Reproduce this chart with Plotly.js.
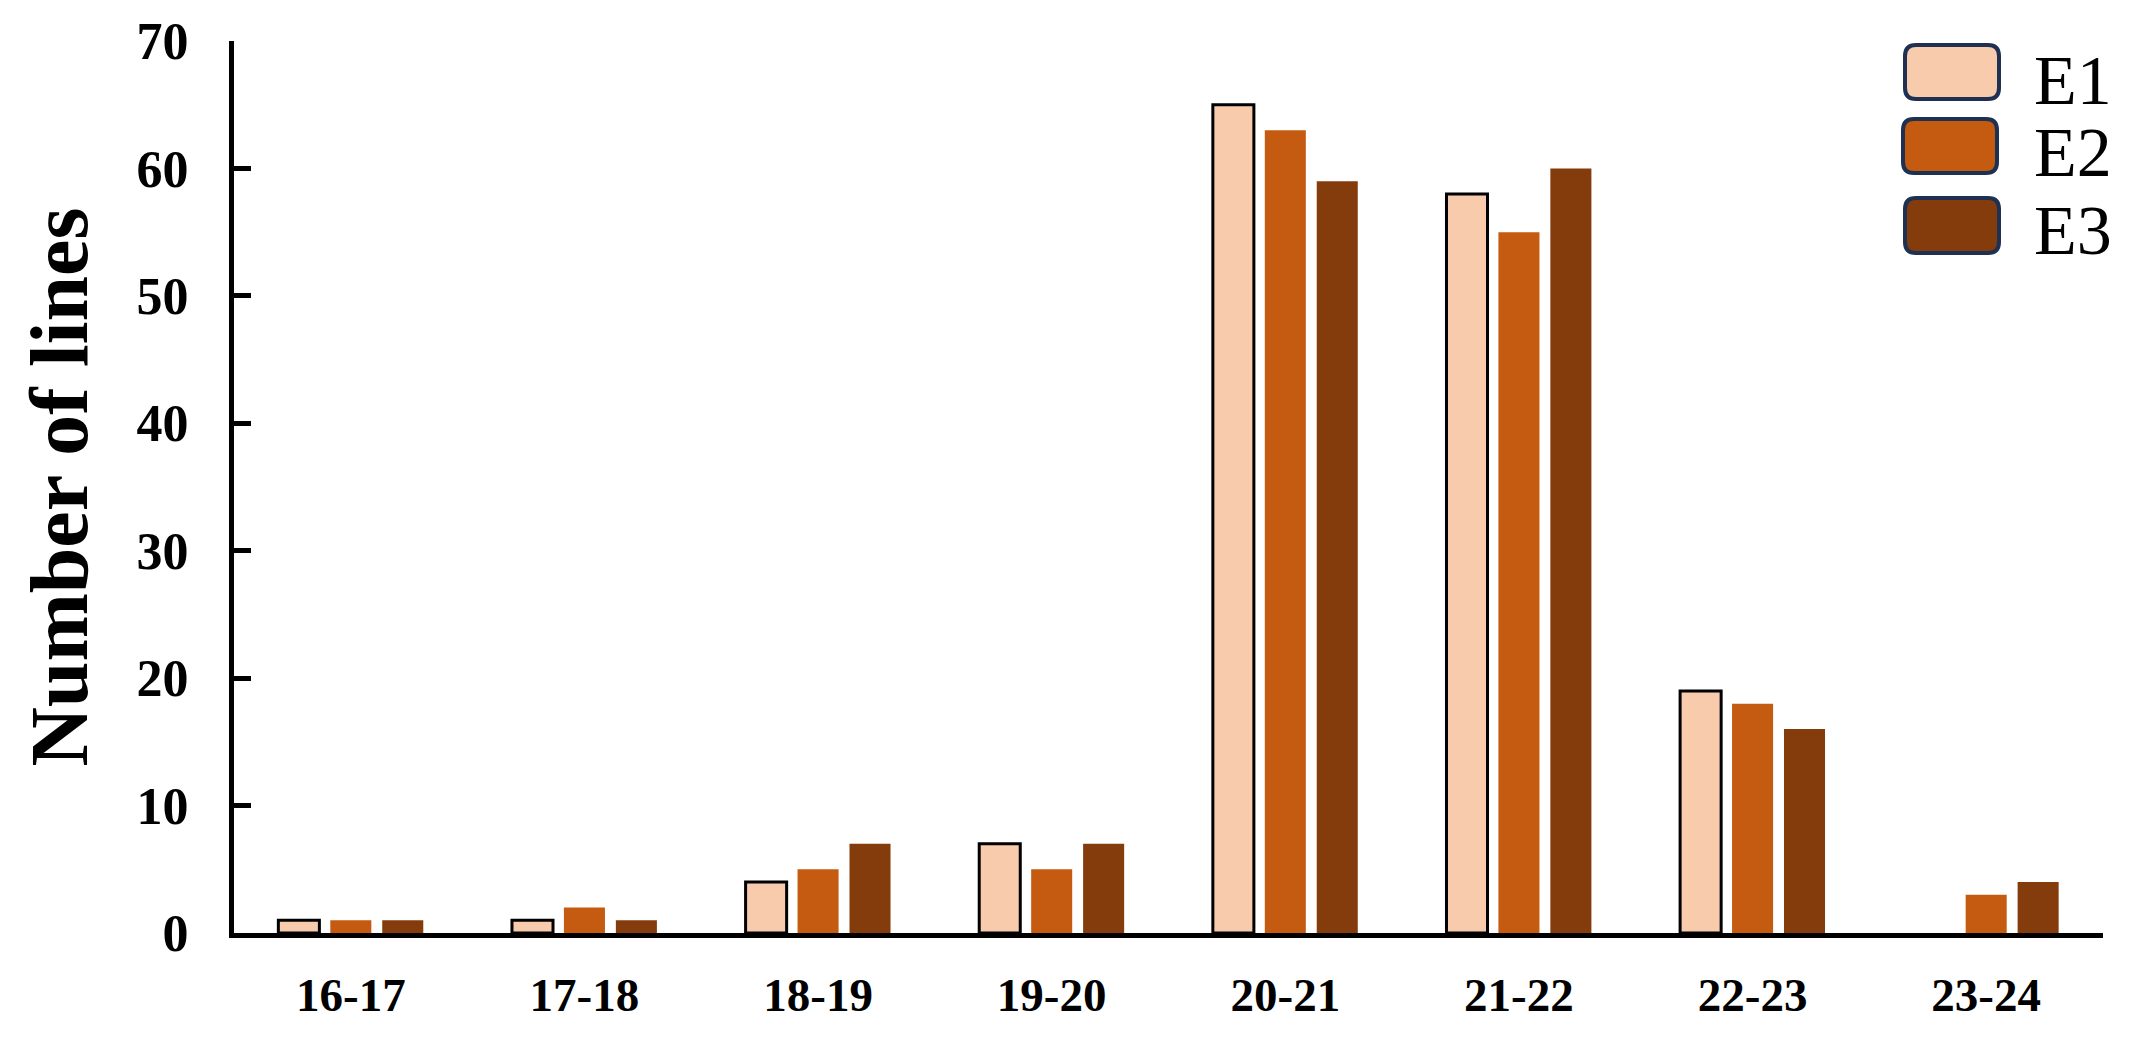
<!DOCTYPE html>
<html>
<head>
<meta charset="utf-8">
<script src="https://cdn.plot.ly/plotly-3.0.1.min.js"></script>
<style>html,body{margin:0;padding:0;background:#fff;}#chart{width:2132px;height:1038px;}</style>
</head>
<body>
<div id="chart"></div>
<script>
// ---- data ----
const categories = ["16-17", "17-18", "18-19", "19-20", "20-21", "21-22", "22-23", "23-24"];
const seriesNames = ["E1", "E2", "E3"];
const e1 = [1, 1, 4, 7, 65, 58, 19, 0];
const e2 = [1, 2, 5, 5, 63, 55, 18, 3];
const e3 = [1, 1, 7, 7, 59, 60, 16, 4];
const yTicks = [0, 10, 20, 30, 40, 50, 60, 70];
const colors = ["#F8CBAD", "#C55A11", "#843C0C"];

// ---- layout geometry ----
const W = 2132, H = 1038;
const M = {l: 234, r: 29, t: 41, b: 105};
const PW = W - M.l - M.r, PH = H - M.t - M.b;
const FONT = "Liberation Serif, Times New Roman, serif";

const traces = [e1, e2, e3].map((vals, i) => ({
  type: "bar",
  name: seriesNames[i],
  x: categories,
  y: vals,
  marker: {
    color: colors[i],
    line: i === 0
      ? {color: "#000000", width: vals.map(v => (v === 0 ? 0 : 3))}
      : {color: colors[i], width: 0}
  },
  showlegend: false,
  hoverinfo: "x+y+name"
}));

// custom legend with rounded boxes
function px2paperX(px) { return (px - M.l) / PW; }
function px2paperY(py) { return (M.t + PH - py) / PH; }
function roundRect(x0, y0, x1, y1, r) {
  const X = px2paperX, Y = px2paperY;
  return `M ${X(x0 + r)} ${Y(y0)} L ${X(x1 - r)} ${Y(y0)} Q ${X(x1)} ${Y(y0)} ${X(x1)} ${Y(y0 + r)} ` +
         `L ${X(x1)} ${Y(y1 - r)} Q ${X(x1)} ${Y(y1)} ${X(x1 - r)} ${Y(y1)} ` +
         `L ${X(x0 + r)} ${Y(y1)} Q ${X(x0)} ${Y(y1)} ${X(x0)} ${Y(y1 - r)} ` +
         `L ${X(x0)} ${Y(y0 + r)} Q ${X(x0)} ${Y(y0)} ${X(x0 + r)} ${Y(y0)} Z`;
}
const legendBoxes = [[1905, 45, 1999, 99], [1903, 119, 1997, 173], [1905, 198, 1999, 253]];
const legendTextY = [80, 152, 230];
const shapes = legendBoxes.map((b, i) => ({
  type: "path", xref: "paper", yref: "paper",
  path: roundRect(b[0], b[1], b[2], b[3], 11),
  fillcolor: colors[i],
  line: {color: "#1F3152", width: 4},
  layer: "above"
}));
const annotations = seriesNames.map((n, i) => ({
  text: n, xref: "paper", yref: "paper",
  x: px2paperX(2033), y: px2paperY(legendTextY[i]),
  xanchor: "left", yanchor: "middle", showarrow: false,
  height: 64, valign: "middle", borderpad: 0,
  font: {family: FONT, size: 70, color: "#000"}
}));

const layout = {
  width: W, height: H,
  margin: M,
  paper_bgcolor: "#ffffff",
  plot_bgcolor: "#ffffff",
  barmode: "group",
  bargap: 0.333,
  bargroupgap: 0.21,
  font: {family: FONT, color: "#000"},
  xaxis: {
    type: "category",
    showline: true, linecolor: "#000", linewidth: 5,
    ticks: "", showgrid: false, zeroline: false,
    tickfont: {family: FONT, size: 47, color: "#000", weight: "bold"},
    ticklabelstandoff: 17
  },
  yaxis: {
    range: [0, 70],
    tickvals: yTicks,
    ticktext: yTicks.map(String),
    showline: true, linecolor: "#000", linewidth: 5,
    ticks: "inside", ticklen: 17, tickwidth: 5, tickcolor: "#000",
    showgrid: false, zeroline: false,
    tickfont: {family: FONT, size: 52, color: "#000", weight: "bold"},
    ticklabelstandoff: 30,
    title: {text: "Number of lines", font: {family: FONT, size: 82, color: "#000", weight: "bold"}, standoff: 23}
  },
  shapes: shapes,
  annotations: annotations
};

Plotly.newPlot("chart", traces, layout, {displayModeBar: false, staticPlot: true});
</script>
</body>
</html>
